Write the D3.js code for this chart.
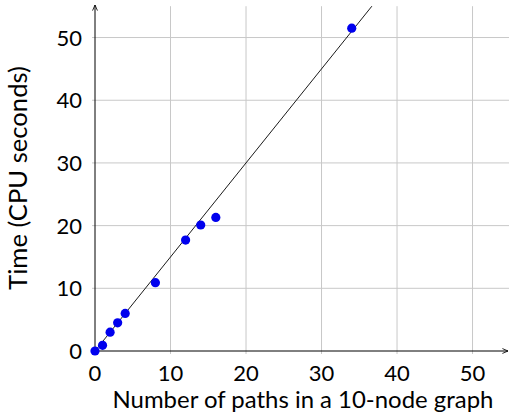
<!DOCTYPE html>
<html><head><meta charset="utf-8">
<script src="https://cdn.jsdelivr.net/npm/d3@7"></script>
<style>body{margin:0;background:#fff}svg{display:block}text{font-family:Lato,"Open Sans",sans-serif;font-weight:400;fill:#000}</style>
</head><body>
<svg id="c" width="509" height="414"></svg>
<script>
const paths = [0, 1, 2, 3, 4, 8, 12, 14, 16, 34];
const cpuSeconds = [0, 0.9, 3.0, 4.5, 6.0, 10.9, 17.7, 20.1, 21.3, 51.5];
const xTicks = [0, 10, 20, 30, 40, 50];
const yTicks = [0, 10, 20, 30, 40, 50];
const fitSlope = [1.5];
const xLabel = "Number of paths in a 10-node graph";
const yLabel = "Time (CPU seconds)";

const svg = d3.select("#c");
const x = d3.scaleLinear().domain([0, 55]).range([95, 510.3]);
const y = d3.scaleLinear().domain([0, 55]).range([351, 6.2]);

svg.append("defs").append("marker").attr("id","arr").attr("viewBox","0 0 10 10")
  .attr("refX",9).attr("refY",5).attr("markerWidth",7).attr("markerHeight",7)
  .attr("orient","auto-start-reverse").attr("markerUnits","userSpaceOnUse")
  .append("path").attr("d","M1,1.5 L9,5 L1,8.5").attr("fill","none").attr("stroke","#000").attr("stroke-width",1.2);

// grid
const g = svg.append("g");
g.selectAll(".vg").data(xTicks.filter(d=>d>0)).join("line")
  .attr("x1",d=>x(d)).attr("x2",d=>x(d)).attr("y1",y(55)).attr("y2",y(0)+3)
  .attr("stroke","#c8c8c8").attr("stroke-width",1);
g.selectAll(".hg").data(yTicks.filter(d=>d>0)).join("line")
  .attr("y1",d=>y(d)).attr("y2",d=>y(d)).attr("x1",x(0)-3).attr("x2",x(55))
  .attr("stroke","#c8c8c8").attr("stroke-width",1);

// axes
svg.append("line").attr("x1",x(0)).attr("x2",508).attr("y1",y(0)).attr("y2",y(0))
  .attr("stroke","#000").attr("stroke-width",1).attr("marker-end","url(#arr)");
svg.append("line").attr("x1",x(0)).attr("x2",x(0)).attr("y1",y(0)).attr("y2",5)
  .attr("stroke","#000").attr("stroke-width",1).attr("marker-end","url(#arr)");

// tick labels
svg.selectAll(".xt").data(xTicks).join("text")
  .attr("x",d=>x(d)).attr("y",381).attr("text-anchor","middle")
  .attr("font-size",22).text(d=>d);
svg.selectAll(".yt").data(yTicks).join("text")
  .attr("x",82).attr("y",d=>y(d)+8).attr("text-anchor","end")
  .attr("font-size",22).text(d=>d);

// fit line
const lx = d3.line().x(d=>x(d[0])).y(d=>y(d[1]));
const xEnd = 55/fitSlope[0];
svg.append("path").attr("d", lx([[0,0],[xEnd, xEnd*fitSlope[0]]]))
  .attr("fill","none").attr("stroke","#000").attr("stroke-width",0.9);

// points
svg.selectAll(".pt").data(paths.map((p,i)=>[p,cpuSeconds[i]])).join("circle")
  .attr("cx",d=>x(d[0])).attr("cy",d=>y(d[1])).attr("r",4.6).attr("fill","#0000ee");

// titles
const xt = svg.append("text").attr("x",303).attr("y",407.5).attr("text-anchor","middle")
  .attr("font-size",22).text(xLabel);
const yt = svg.append("text").attr("transform","translate(27,178) rotate(-90)").attr("text-anchor","middle")
  .attr("font-size",22).text(yLabel);
// fit widths
const fx = 381 / xt.node().getComputedTextLength();
xt.attr("font-size", 22*fx);
const fy = 224 / yt.node().getComputedTextLength();
yt.attr("font-size", 22*fy);
</script>
</body></html>
